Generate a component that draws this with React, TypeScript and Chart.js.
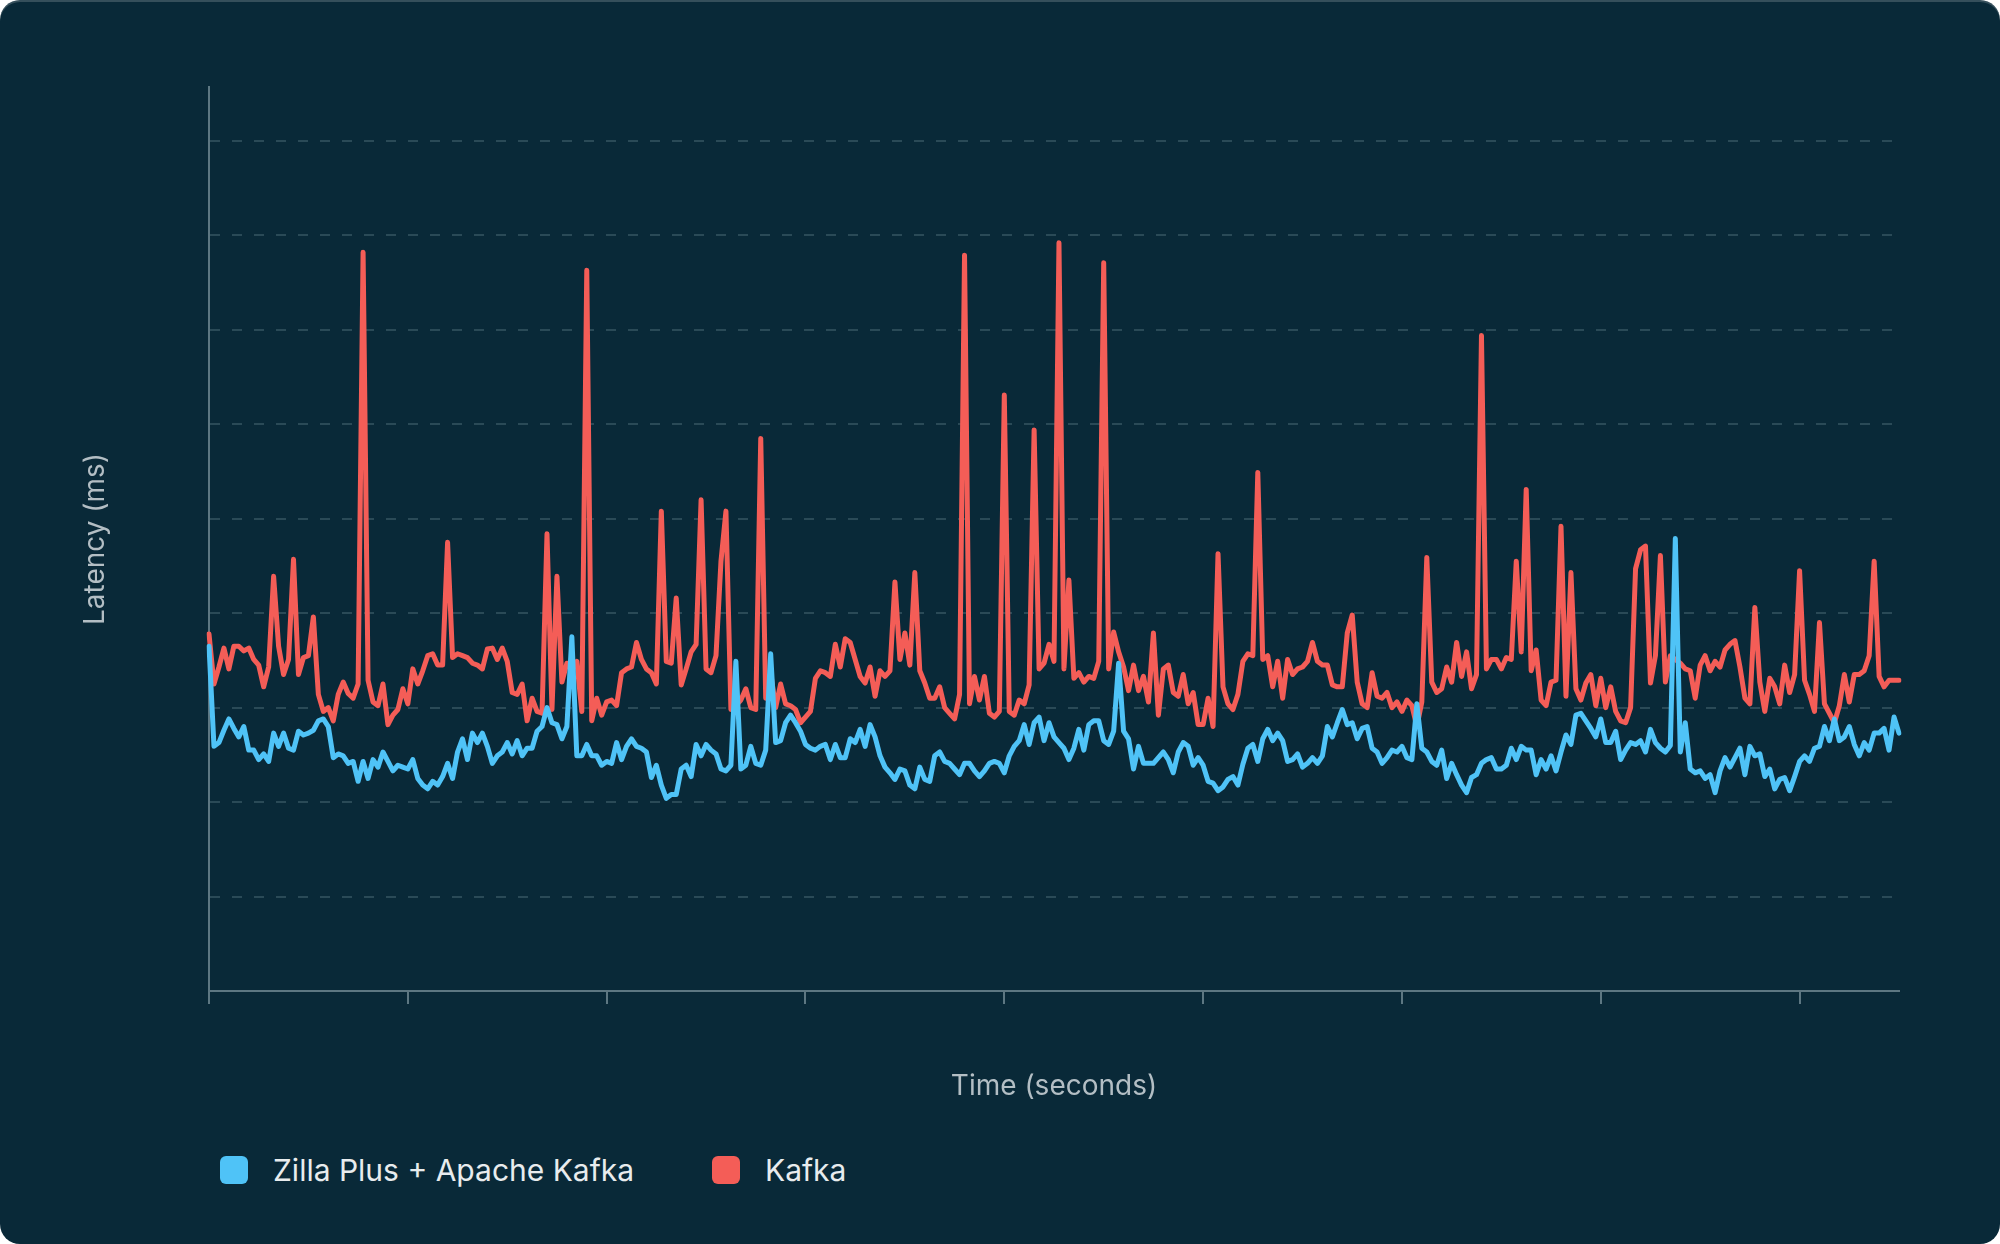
import { useEffect, useRef } from "react";
import { Chart, ChartConfiguration, registerables } from "chart.js";

Chart.register(...registerables);

// latency samples, one per second (grid units)
const zillaLatency = [
  3.65, 2.59, 2.63, 2.76, 2.88, 2.78, 2.69, 2.8, 2.55, 2.55, 2.45, 2.51, 2.43, 2.73, 2.59, 2.73, 2.57, 2.55, 2.75, 2.71,
  2.73, 2.76, 2.86, 2.88, 2.8, 2.47, 2.51, 2.49, 2.41, 2.43, 2.22, 2.43, 2.25, 2.45, 2.37, 2.53, 2.43, 2.33, 2.39, 2.37,
  2.35, 2.45, 2.25, 2.18, 2.14, 2.22, 2.18, 2.27, 2.41, 2.25, 2.53, 2.67, 2.45, 2.73, 2.63, 2.73, 2.59, 2.41, 2.49, 2.53,
  2.63, 2.51, 2.65, 2.49, 2.57, 2.57, 2.75, 2.8, 3.0, 2.84, 2.82, 2.67, 2.8, 3.75, 2.49, 2.49, 2.61, 2.49, 2.49, 2.39,
  2.43, 2.41, 2.63, 2.45, 2.59, 2.67, 2.59, 2.57, 2.53, 2.26, 2.39, 2.18, 2.04, 2.08, 2.08, 2.35, 2.39, 2.27, 2.61, 2.49,
  2.61, 2.55, 2.51, 2.35, 2.33, 2.39, 3.49, 2.35, 2.39, 2.59, 2.41, 2.39, 2.55, 3.57, 2.63, 2.65, 2.84, 2.92, 2.84, 2.75,
  2.61, 2.57, 2.55, 2.59, 2.61, 2.45, 2.61, 2.47, 2.47, 2.67, 2.63, 2.77, 2.59, 2.82, 2.69, 2.49, 2.37, 2.31, 2.24, 2.35,
  2.33, 2.18, 2.14, 2.37, 2.24, 2.22, 2.49, 2.53, 2.43, 2.41, 2.35, 2.29, 2.41, 2.41, 2.33, 2.27, 2.33, 2.41, 2.43, 2.41,
  2.31, 2.49, 2.59, 2.65, 2.82, 2.61, 2.84, 2.9, 2.65, 2.84, 2.69, 2.63, 2.57, 2.45, 2.57, 2.77, 2.55, 2.82, 2.86, 2.86,
  2.65, 2.61, 2.75, 3.47, 2.75, 2.67, 2.35, 2.59, 2.41, 2.41, 2.41, 2.47, 2.53, 2.45, 2.31, 2.53, 2.63, 2.59, 2.39, 2.47,
  2.39, 2.22, 2.2, 2.12, 2.16, 2.24, 2.27, 2.18, 2.4, 2.57, 2.61, 2.43, 2.67, 2.77, 2.65, 2.73, 2.65, 2.43, 2.45, 2.51,
  2.37, 2.41, 2.47, 2.41, 2.49, 2.8, 2.69, 2.84, 2.98, 2.82, 2.84, 2.67, 2.78, 2.8, 2.57, 2.53, 2.41, 2.47, 2.55, 2.53,
  2.59, 2.47, 2.45, 3.04, 2.57, 2.53, 2.43, 2.39, 2.55, 2.25, 2.41, 2.29, 2.18, 2.1, 2.26, 2.29, 2.41, 2.45, 2.47, 2.35,
  2.35, 2.39, 2.57, 2.45, 2.59, 2.55, 2.55, 2.29, 2.45, 2.35, 2.49, 2.33, 2.53, 2.71, 2.61, 2.92, 2.94, 2.86, 2.78, 2.69,
  2.88, 2.63, 2.63, 2.75, 2.45, 2.55, 2.63, 2.61, 2.65, 2.53, 2.77, 2.63, 2.57, 2.53, 2.6, 4.79, 2.53, 2.84, 2.35, 2.31,
  2.33, 2.25, 2.29, 2.1, 2.33, 2.47, 2.37, 2.47, 2.57, 2.29, 2.59, 2.49, 2.51, 2.27, 2.35, 2.14, 2.24, 2.26, 2.12, 2.27,
  2.43, 2.49, 2.43, 2.57, 2.59, 2.8, 2.65, 2.88, 2.65, 2.69, 2.8, 2.61, 2.49, 2.63, 2.55, 2.73, 2.73, 2.78, 2.55, 2.9,
  2.73,
];

const kafkaLatency = [
  3.78, 3.25, 3.43, 3.63, 3.41, 3.65, 3.65, 3.6, 3.63, 3.51, 3.45, 3.22, 3.43, 4.39, 3.65, 3.35, 3.51, 4.57, 3.35, 3.53,
  3.55, 3.96, 3.14, 2.96, 3.0, 2.86, 3.14, 3.27, 3.15, 3.1, 3.25, 7.82, 3.29, 3.06, 3.02, 3.25, 2.82, 2.92, 2.98, 3.2,
  3.04, 3.41, 3.25, 3.39, 3.55, 3.57, 3.45, 3.45, 4.75, 3.53, 3.57, 3.55, 3.53, 3.47, 3.45, 3.41, 3.62, 3.63, 3.51, 3.63,
  3.49, 3.16, 3.14, 3.25, 2.86, 3.1, 2.96, 2.94, 4.84, 2.98, 4.39, 3.27, 3.47, 3.43, 3.49, 2.96, 7.63, 2.86, 3.1, 2.92,
  3.06, 3.08, 3.02, 3.37, 3.41, 3.43, 3.69, 3.51, 3.41, 3.37, 3.25, 5.08, 3.49, 3.47, 4.16, 3.24, 3.41, 3.59, 3.67, 5.2,
  3.41, 3.37, 3.55, 4.55, 5.08, 2.98, 3.02, 3.08, 3.2, 3.0, 2.98, 5.85, 3.1, 3.37, 3.0, 3.25, 3.04, 3.02, 2.98, 2.84,
  2.9, 2.96, 3.31, 3.39, 3.37, 3.33, 3.67, 3.43, 3.73, 3.69, 3.51, 3.33, 3.26, 3.43, 3.12, 3.39, 3.33, 3.39, 4.33, 3.51,
  3.79, 3.45, 4.43, 3.39, 3.26, 3.1, 3.1, 3.22, 3.0, 2.94, 2.88, 3.14, 7.79, 3.04, 3.33, 3.08, 3.33, 2.94, 2.9, 2.96,
  6.31, 2.96, 2.92, 3.08, 3.04, 3.24, 5.94, 3.41, 3.47, 3.67, 3.49, 7.92, 3.41, 4.35, 3.31, 3.37, 3.27, 3.33, 3.31, 3.49,
  7.71, 3.41, 3.8, 3.59, 3.43, 3.18, 3.45, 3.18, 3.33, 3.06, 3.79, 2.92, 3.41, 3.45, 3.16, 3.12, 3.35, 3.04, 3.16, 2.82,
  2.82, 3.1, 2.8, 4.63, 3.22, 3.04, 2.98, 3.14, 3.49, 3.57, 3.55, 5.49, 3.51, 3.55, 3.22, 3.49, 3.1, 3.51, 3.35, 3.41,
  3.43, 3.49, 3.69, 3.49, 3.45, 3.45, 3.24, 3.22, 3.22, 3.79, 3.98, 3.27, 3.04, 3.0, 3.37, 3.12, 3.1, 3.16, 3.0, 3.06,
  2.96, 3.08, 3.02, 2.8, 3.06, 4.59, 3.27, 3.16, 3.2, 3.43, 3.27, 3.69, 3.33, 3.59, 3.2, 3.35, 6.94, 3.41, 3.51, 3.51,
  3.41, 3.53, 3.51, 4.55, 3.59, 5.31, 3.39, 3.61, 3.08, 3.02, 3.27, 3.29, 4.92, 3.12, 4.43, 3.2, 3.08, 3.26, 3.35, 3.02,
  3.31, 3.0, 3.22, 2.96, 2.86, 2.84, 3.0, 4.47, 4.67, 4.71, 3.26, 3.55, 4.61, 3.27, 3.55, 3.51, 3.47, 3.41, 3.39, 3.1,
  3.45, 3.55, 3.39, 3.49, 3.43, 3.61, 3.67, 3.71, 3.43, 3.1, 3.04, 4.06, 3.27, 2.96, 3.31, 3.22, 3.04, 3.45, 3.16, 3.35,
  4.45, 3.29, 3.14, 2.96, 3.9, 3.04, 2.94, 2.84, 3.02, 3.35, 3.06, 3.35, 3.35, 3.39, 3.55, 4.55, 3.33, 3.22, 3.29, 3.29,
  3.29,
];

const seriesNames = ["Zilla Plus + Apache Kafka", "Kafka"];
const seriesColors = ["#4fc3f7", "#f45d57"];
const timeSeconds = zillaLatency.map((_, i) => i);

const xTickEvery = 40;
const yMax = 9.57;

const BG = "#092938";
const AXIS = "#5d7782";
const GRID = "#2a4a57";
const TITLE = "#b3bec4";
const LEGEND_TEXT = "#e8ecee";

export default function App() {
  const canvasRef = useRef<HTMLCanvasElement>(null);
  const chartRef = useRef<Chart | null>(null);

  useEffect(() => {
    if (!canvasRef.current) return;
    const ctx = canvasRef.current.getContext("2d");
    if (!ctx) return;

    if (chartRef.current) chartRef.current.destroy();

    const titleFont = { family: "Inter", size: 28, weight: "normal" as const };

    const config: ChartConfiguration = {
      type: "line",
      data: {
        labels: timeSeconds,
        datasets: [
          {
            label: seriesNames[0],
            data: zillaLatency,
            borderColor: seriesColors[0],
            backgroundColor: seriesColors[0],
            borderWidth: 5,
            pointRadius: 0,
            pointHoverRadius: 0,
            tension: 0,
            borderJoinStyle: "round",
            borderCapStyle: "round",
          },
          {
            label: seriesNames[1],
            data: kafkaLatency,
            borderColor: seriesColors[1],
            backgroundColor: seriesColors[1],
            borderWidth: 5,
            pointRadius: 0,
            pointHoverRadius: 0,
            tension: 0,
            borderJoinStyle: "round",
            borderCapStyle: "round",
          },
        ],
      },
      options: {
        responsive: true,
        maintainAspectRatio: false,
        animation: false,
        events: [],
        layout: { padding: { left: 79.2, right: 101, top: 87, bottom: 16.2 } },
        plugins: {
          legend: { display: false },
          tooltip: { enabled: false },
        },
        scales: {
          x: {
            ticks: { display: false, autoSkip: false },
            grid: {
              display: true,
              drawOnChartArea: false,
              drawTicks: true,
              tickLength: 13,
              lineWidth: 2,
              color: (c: any) => (c.index % xTickEvery === 0 ? AXIS : "transparent"),
              tickColor: (c: any) => (c.index % xTickEvery === 0 ? AXIS : "transparent"),
            },
            border: { display: true, color: AXIS, width: 2 },
            title: {
              display: true,
              text: "Time (seconds)",
              color: TITLE,
              font: titleFont,
              padding: { top: 66.2, bottom: 0 },
            },
          },
          y: {
            min: 0,
            max: yMax,
            ticks: { display: false, stepSize: 1 },
            grid: {
              display: true,
              drawTicks: false,
              lineWidth: 2,
              color: (c: any) => {
                const v = c.tick ? c.tick.value : 0;
                const whole = Math.abs(v - Math.round(v)) < 1e-6;
                return whole && v >= 1 && v <= 9 ? GRID : "transparent";
              },
            },
            border: { display: true, color: AXIS, width: 2, dash: [10, 12] },
            title: {
              display: true,
              text: "Latency (ms)",
              color: TITLE,
              font: titleFont,
              padding: { top: 0, bottom: 96.2 },
            },
          },
        },
      },
    };

    chartRef.current = new Chart(ctx, config);

    return () => {
      if (chartRef.current) {
        chartRef.current.destroy();
        chartRef.current = null;
      }
    };
  }, []);

  const legendLefts = [220, 712];

  return (
    <div
      style={{
        position: "relative",
        width: 2000,
        height: 1244,
        background: BG,
        borderRadius: 20,
        overflow: "hidden",
        boxShadow: "inset 0 2px 0 rgba(255,255,255,0.18)",
        fontFamily: "Inter, sans-serif",
      }}
    >
      <style>{"body{margin:0}"}</style>
      <div style={{ position: "absolute", left: 0, top: 0, width: 2000, height: 1120 }}>
        <canvas ref={canvasRef} />
      </div>
      {seriesNames.map((name, i) => (
        <div
          key={name}
          style={{
            position: "absolute",
            left: legendLefts[i],
            top: 1156,
            height: 28,
            display: "flex",
            alignItems: "center",
            whiteSpace: "nowrap",
          }}
        >
          <span
            style={{
              width: 28,
              height: 28,
              borderRadius: 6,
              background: seriesColors[i],
              marginRight: 25,
              flex: "none",
            }}
          />
          <span style={{ fontSize: 30, lineHeight: "28px", color: LEGEND_TEXT }}>{name}</span>
        </div>
      ))}
    </div>
  );
}
